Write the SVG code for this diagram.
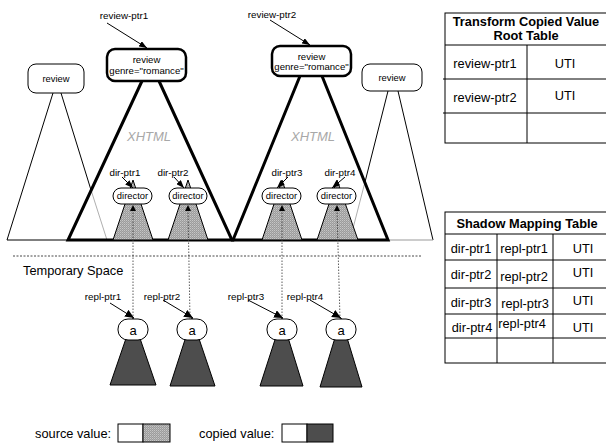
<svg xmlns="http://www.w3.org/2000/svg" width="606" height="446" viewBox="0 0 606 446">
<defs>
<pattern id="dots" width="2" height="2" patternUnits="userSpaceOnUse">
<rect width="2" height="2" fill="#9c9c9c"/>
<rect width="1" height="1" fill="#c6c6c6"/>
<rect x="1" y="1" width="1" height="1" fill="#b0b0b0"/>
</pattern>
<marker id="arr" markerWidth="8" markerHeight="6" refX="8" refY="3" orient="auto" markerUnits="userSpaceOnUse">
<path d="M0,0 L8,3 L0,6 z" fill="#000"/>
</marker>
<marker id="arrB" markerWidth="9" markerHeight="8" refX="9" refY="4" orient="auto" markerUnits="userSpaceOnUse">
<path d="M0,0 L9,4 L0,8 z" fill="#000"/>
</marker>
</defs>
<style>
text{font-family:"Liberation Sans",Arial,sans-serif;fill:#000}
.lbl{font-size:9.8px}
.nd{font-size:9.4px;text-anchor:middle}
.tb{font-size:12.8px;text-anchor:middle}
.th{font-size:12.8px;font-weight:bold;text-anchor:middle}
.xh{font-size:13px;font-style:italic;fill:#a8a8a8;text-anchor:middle}
.big{fill:#fff;stroke:#000;stroke-width:2.5}
.thin{fill:#fff;stroke:#000;stroke-width:1}
.tri{fill:none;stroke:#000;stroke-width:3}
.tl{fill:none;stroke:#000;stroke-width:1}
.gl{fill:none;stroke:#999;stroke-width:0.8}
.src{fill:url(#dots);stroke:#000;stroke-width:1}
.cpy{fill:#4d4d4d;stroke:#000;stroke-width:1}
.ptr{stroke:#000;stroke-width:1;fill:none;marker-end:url(#arr)}
.rptr{stroke:#000;stroke-width:1;fill:none;marker-end:url(#arrB)}
.dot{stroke:#333;stroke-width:0.8;stroke-dasharray:1.5,1.5;fill:none}
.grid{stroke:#000;stroke-width:1;fill:none}
</style>

<g id="trees">
<line class="tl" x1="53" y1="93" x2="7" y2="240"/>
<line class="tl" x1="61" y1="93" x2="91" y2="190"/>
<line class="gl" x1="91" y1="190" x2="107" y2="240"/>
<line class="tl" x1="7" y1="240" x2="68" y2="240"/>
<line class="tl" x1="388" y1="91" x2="365" y2="182"/>
<line class="gl" x1="365" y1="182" x2="351" y2="236"/>
<line class="tl" x1="398" y1="91" x2="433" y2="240"/>
<line class="gl" x1="388" y1="240" x2="433" y2="240" style="stroke-width:1.2"/>
<polyline class="tri" points="142,81 68,240 232,240 159,81"/>
<polyline class="tri" points="300,76 233,240 388,240 322,76"/>
<text class="xh" x="149" y="140.5">XHTML</text>
<text class="xh" x="313" y="140.5">XHTML</text>
<polygon class="src" points="133,180 113,240 153,240"/>
<polygon class="src" points="188,180 168,240 208,240"/>
<polygon class="src" points="282,180 262,240 302,240"/>
<polygon class="src" points="337,180 317,240 358,240"/>
<polygon class="cpy" points="133,318 110,385 156,385"/>
<polygon class="cpy" points="192,318 170,386 215,386"/>
<polygon class="cpy" points="282,318 260,386 303,386"/>
<polygon class="cpy" points="341,318 320,387 362,387"/>
</g>

<g id="separator">
<line x1="13" y1="256" x2="422" y2="256" stroke="#333" stroke-width="0.9" stroke-dasharray="2,1.5"/>
<text x="23" y="274.5" style="font-size:12.8px">Temporary Space</text>
</g>

<g id="review-left">
<rect class="thin" x="28" y="64" width="56" height="29" rx="8"/>
<text class="nd" x="56" y="82">review</text>
</g>
<g id="review-right">
<rect class="thin" x="362" y="64" width="60" height="27" rx="8"/>
<text class="nd" x="392" y="80.5">review</text>
</g>
<g id="review1">
<rect class="big" x="107" y="49" width="79" height="32" rx="8"/>
<text class="nd" x="146.5" y="62.5" style="font-size:9.6px">review</text>
<text class="nd" x="146.5" y="73.5" style="font-size:9.6px">genre="romance"</text>
</g>
<g id="review2">
<rect class="big" x="272" y="46" width="79" height="30" rx="8"/>
<text class="nd" x="311.5" y="60" style="font-size:9.6px">review</text>
<text class="nd" x="311.5" y="69.5" style="font-size:9.6px">genre="romance"</text>
</g>

<g id="director1"><rect class="thin" x="113" y="188" width="39" height="16" rx="8"/><text class="nd" x="132.5" y="199.3">director</text></g>
<g id="director2"><rect class="thin" x="169" y="188" width="38" height="16" rx="8"/><text class="nd" x="188" y="199.3">director</text></g>
<g id="director3"><rect class="thin" x="262" y="188" width="39" height="16" rx="8"/><text class="nd" x="281.5" y="199.3">director</text></g>
<g id="director4"><rect class="thin" x="317" y="188" width="39" height="16" rx="8"/><text class="nd" x="336.5" y="199.3">director</text></g>

<g id="a1"><rect class="thin" x="118" y="319" width="30" height="21" rx="10"/><text class="nd" x="133" y="334.5" style="font-size:13px">a</text></g>
<g id="a2"><rect class="thin" x="177" y="319" width="30" height="21" rx="10"/><text class="nd" x="192" y="334.5" style="font-size:13px">a</text></g>
<g id="a3"><rect class="thin" x="267" y="319" width="30" height="21" rx="10"/><text class="nd" x="282" y="334.5" style="font-size:13px">a</text></g>
<g id="a4"><rect class="thin" x="326" y="319" width="30" height="21" rx="10"/><text class="nd" x="341" y="334.5" style="font-size:13px">a</text></g>

<g id="connectors">
<line class="dot" x1="133" y1="319" x2="133" y2="210"/>
<line class="dot" x1="190" y1="319" x2="188" y2="210"/>
<line class="dot" x1="282" y1="319" x2="282" y2="210"/>
<line class="dot" x1="340" y1="319" x2="337" y2="210"/>
<path d="M133,205 L136,211 L130,211 z"/>
<path d="M188,205 L191,211 L185,211 z"/>
<path d="M282,205 L285,211 L279,211 z"/>
<path d="M337,205 L340,211 L334,211 z"/>
<line class="ptr" x1="107" y1="23" x2="147" y2="48"/>
<line class="ptr" x1="270" y1="20" x2="310" y2="45"/>
<line class="ptr" x1="122" y1="177" x2="133" y2="188"/>
<line class="ptr" x1="174" y1="177" x2="184" y2="188"/>
<line class="ptr" x1="288" y1="177" x2="277" y2="188"/>
<line class="ptr" x1="345" y1="177" x2="332" y2="188"/>
<line class="rptr" x1="110" y1="303" x2="134" y2="318"/>
<line class="rptr" x1="163" y1="300" x2="193" y2="318"/>
<line class="rptr" x1="248" y1="300" x2="283" y2="318"/>
<line class="rptr" x1="310" y1="300" x2="341" y2="318"/>
</g>

<g id="labels">
<text class="lbl" x="124" y="18.5" text-anchor="middle">review-ptr1</text>
<text class="lbl" x="272" y="17.5" text-anchor="middle">review-ptr2</text>
<text class="lbl" x="125" y="175.5" text-anchor="middle">dir-ptr1</text>
<text class="lbl" x="173" y="175.5" text-anchor="middle">dir-ptr2</text>
<text class="lbl" x="287" y="175.5" text-anchor="middle">dir-ptr3</text>
<text class="lbl" x="340" y="175.5" text-anchor="middle">dir-ptr4</text>
<text class="lbl" x="103" y="299.5" text-anchor="middle">repl-ptr1</text>
<text class="lbl" x="162" y="299.5" text-anchor="middle">repl-ptr2</text>
<text class="lbl" x="246" y="299.5" text-anchor="middle">repl-ptr3</text>
<text class="lbl" x="305" y="299.5" text-anchor="middle">repl-ptr4</text>
</g>

<g id="root-table">
<rect class="grid" x="445" y="13" width="162" height="130"/>
<line class="grid" x1="445" y1="45" x2="607" y2="45"/>
<line class="grid" x1="443" y1="79" x2="607" y2="79"/>
<line class="grid" x1="443" y1="113" x2="607" y2="113"/>
<line class="grid" x1="527" y1="45" x2="527" y2="143"/>
<text class="th" x="526" y="25.5">Transform Copied Value</text>
<text class="th" x="526" y="39.5">Root Table</text>
<text class="tb" x="485" y="67.5">review-ptr1</text>
<text class="tb" x="565" y="67.5">UTI</text>
<text class="tb" x="485" y="101.5">review-ptr2</text>
<text class="tb" x="565" y="99.5">UTI</text>
</g>

<g id="shadow-table">
<rect class="grid" x="445" y="212" width="165" height="151"/>
<line class="grid" x1="445" y1="234" x2="610" y2="234"/>
<line class="grid" x1="445" y1="260" x2="610" y2="260"/>
<line class="grid" x1="445" y1="288" x2="610" y2="288"/>
<line class="grid" x1="445" y1="314" x2="610" y2="314"/>
<line class="grid" x1="445" y1="338" x2="610" y2="338"/>
<line class="grid" x1="497" y1="234" x2="497" y2="363"/>
<line class="grid" x1="553" y1="234" x2="553" y2="363"/>
<text class="th" x="527" y="227.5">Shadow Mapping Table</text>
<text class="tb" x="471" y="252.5">dir-ptr1</text>
<text class="tb" x="524" y="252.5">repl-ptr1</text>
<text class="tb" x="583" y="252.5">UTI</text>
<text class="tb" x="471" y="278.5">dir-ptr2</text>
<text class="tb" x="524" y="280.5">repl-ptr2</text>
<text class="tb" x="583" y="276.5">UTI</text>
<text class="tb" x="471" y="306.5">dir-ptr3</text>
<text class="tb" x="525" y="307.5">repl-ptr3</text>
<text class="tb" x="583" y="304.5">UTI</text>
<text class="tb" x="472" y="331.5">dir-ptr4</text>
<text class="tb" x="522" y="327.5">repl-ptr4</text>
<text class="tb" x="583" y="331.5">UTI</text>
</g>

<g id="legend">
<text x="35" y="437.5" style="font-size:12.8px">source value:</text>
<rect class="thin" x="118" y="424" width="25" height="18"/>
<rect class="src" x="143" y="424" width="27" height="18"/>
<text x="199" y="437.5" style="font-size:12.8px">copied value:</text>
<rect class="thin" x="282" y="424" width="25" height="18"/>
<rect class="cpy" x="307" y="424" width="26" height="18"/>
</g>
</svg>
